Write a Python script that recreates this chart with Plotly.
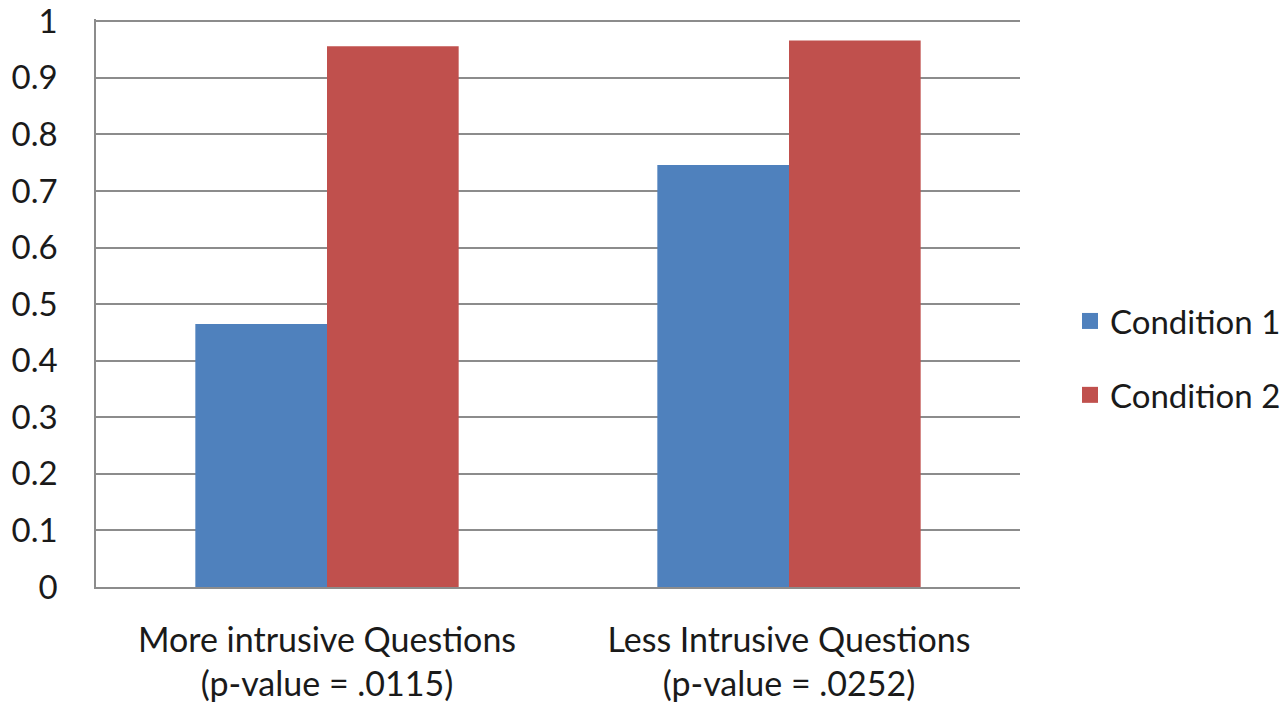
import plotly.graph_objects as go

categories = ["More intrusive Questions<br>(p-value = .0115)",
              "Less Intrusive Questions<br>(p-value = .0252)"]
condition_1 = [0.465, 0.746]
condition_2 = [0.956, 0.966]
series_names = ["Condition 1", "Condition 2"]
series_colors = ["#4F81BD", "#C0504D"]
y_ticks = [0, 0.1, 0.2, 0.3, 0.4, 0.5, 0.6, 0.7, 0.8, 0.9, 1]
y_tick_text = ["0", "0.1", "0.2", "0.3", "0.4", "0.5", "0.6", "0.7", "0.8", "0.9", "1"]

FONT = "Lato, Open Sans, sans-serif"
TEXT = "#1a1a1a"
GRID = "#8c8c8c"

fig = go.Figure()
for name, values, color in zip(series_names, [condition_1, condition_2], series_colors):
    fig.add_trace(go.Bar(x=categories, y=values, name=name,
                         marker=dict(color=color, line=dict(width=0)),
                         showlegend=False))
    # legend swatch with a larger square than the default bar icon
    fig.add_trace(go.Scatter(x=[None], y=[None], mode="markers", name=name,
                             marker=dict(symbol="square", size=18, color=color),
                             legendgroup=name, showlegend=True))

fig.update_layout(
    width=1285, height=712,
    margin=dict(l=96, r=265, t=19, b=125, autoexpand=False),
    paper_bgcolor="white", plot_bgcolor="white",
    barmode="group", bargap=0.43, bargroupgap=0,
    font=dict(family=FONT, color=TEXT, size=33),
    showlegend=True,
    legend=dict(xref="container", yref="container",
                x=1070 / 1285, y=1 - 358 / 712,
                xanchor="left", yanchor="middle",
                font=dict(family=FONT, size=33, color=TEXT),
                traceorder="grouped", tracegroupgap=28,
                itemwidth=30, bgcolor="rgba(0,0,0,0)"),
)
fig.update_yaxes(range=[0, 1.004], tickvals=y_ticks, ticktext=y_tick_text,
                 showgrid=True, gridcolor=GRID, gridwidth=1.5,
                 showline=True, linecolor=GRID, linewidth=1.5,
                 ticks="", ticklabelstandoff=30, zeroline=False,
                 automargin=False, ticklabeloverflow="allow",
                 tickfont=dict(family=FONT, size=33, color=TEXT))
fig.update_xaxes(showline=True, linecolor=GRID, linewidth=1.5,
                 ticks="", showgrid=False, automargin=False,
                 tickfont=dict(family=FONT, size=34, color=TEXT),
                 ticklabelstandoff=22)

fig.write_html("out.html")
